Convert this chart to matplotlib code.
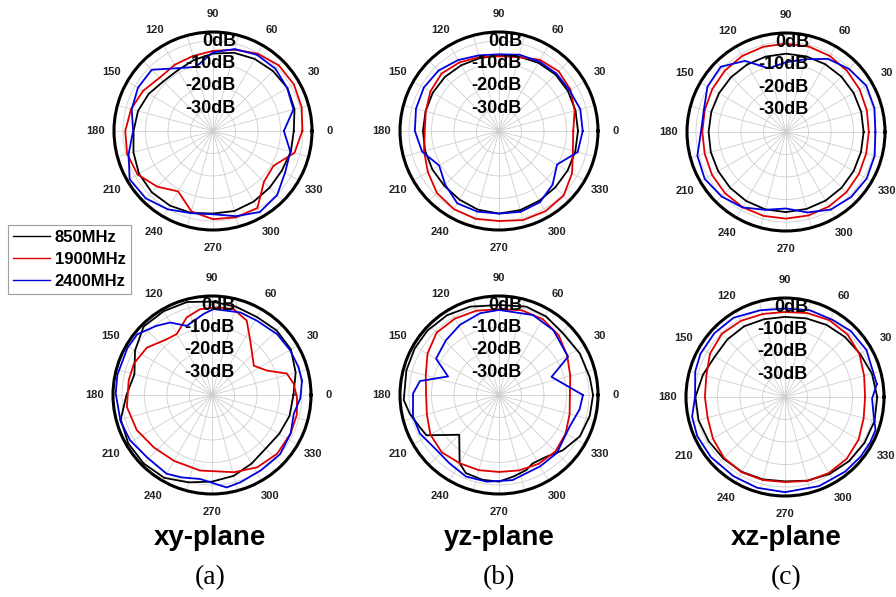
import numpy as np
import matplotlib.pyplot as plt
from matplotlib.lines import Line2D

plt.rcParams['font.family'] = 'Liberation Sans'

ang15 = list(range(0, 360, 15))
labels = ['850MHz', '1900MHz', '2400MHz']
colours = ['black', '#e00000', '#0000e0']

# ---- (a) xy-plane, top row (15 deg steps, dB)
xy1_850 = [-4.1, -2.5, -1.8, -2.3, -3.0, -4.0, -5.6, -7.3, -8.8, -8.8, -7.0, -5.5,
           -4.7, -3.4, -2.0, -1.5, -1.7, -2.3, -3.3, -3.2, -3.8, -4.4, -4.7, -4.2]
xy1_1900 = [-0.3, 0.8, 1.5, 1.3, -0.3, -2.6, -4.4, -5.5, -6.0, -6.5, -4.2, -2.3,
            -1.0, -0.5, -1.3, -5.0, -9.0, -3.0, -0.8, -0.3, -0.5, -8.0, -9.0, -2.5]
xy1_2400 = [-8.5, -3.0, -1.9, -0.8, -0.9, -2.3, -5.0, -10.5, -7.8, -1.5, -1.5, -2.6,
            -4.5, -1.2, 2.8, 2.3, 0.2, -2.2, -3.0, -0.8, 1.6, 0.3, -3.0, -4.4]

# ---- (a) xy-plane, bottom row
xy2_850 = [-3.8, -1.5, 0.5, 0.6, 0.0, 0.7, 1.5, 2.8, 3.0, 3.0, -0.5, -4.3,
           -2.0, 2.0, 3.0, 3.0, 2.5, 0.2, -1.5, -2.8, -4.8, -6.3, -5.5, -4.3]
xy2_1900_ang = [0, 8, 16, 24, 35, 55, 65, 76, 87, 98, 108, 120, 129, 144, 158, 170,
                188, 205, 222, 240, 261, 286, 302, 318, 334, 347, 358]
xy2_1900 = [-2.5, -3.4, -5.4, -13.3, -17.3, -10.4, -3.5, -0.6, -1.0, -1.5, -3.7, -8.7,
            -8.1, -4.2, -2.6, -2.4, -1.8, -3.1, -5.2, -6.2, -6.0, -4.3, -2.1, -1.0,
            -1.1, -1.3, -2.2]
xy2_2400_ang = [9, 18, 30, 43, 59, 71, 89, 96, 110, 120, 129, 141, 151, 168, 179, 196,
                209, 224, 240, 250, 262, 279, 288, 303, 319, 334, 347, 358]
xy2_2400 = [0.5, 0.4, 0.0, -0.4, -1.4, -1.2, -1.8, -3.8, -7.3, -2.8, -0.5, 2.8,
            3.0, 3.0, 2.8, 2.3, 1.6, 0.0, 0.4, -1.0, -2.3, 1.6, 0.8, -0.1, 0.1,
            -1.1, -2.7, -0.7]

# ---- (b) yz-plane, top row
yz1_850 = [-4.9, -4.8, -4.6, -4.5, -5.0, -5.8, -6.4, -6.5, -6.3, -6.0, -6.0, -6.2,
           -6.2, -6.0, -5.8, -5.6, -4.8, -3.8, -3.3, -3.6, -4.2, -4.6, -4.8, -4.9]
yz1_1900 = [-7.0, -5.2, -3.3, -2.5, -3.5, -6.0, -6.8, -6.0, -4.8, -3.9, -4.8, -6.3,
            -7.0, -5.5, -3.5, -1.0, 0.1, 0.4, 0.0, 1.0, 1.2, 0.6, -2.5, -6.0]
yz1_2400 = [-2.8, -2.6, -3.8, -3.9, -4.3, -4.9, -5.9, -5.2, -3.6, -2.0, -1.4, -1.8,
            -2.6, -4.6, -9.3, -6.2, -2.9, -2.9, -3.3, -2.8, -3.5, -6.3, -10.2, -3.8]

# ---- (b) yz-plane, bottom row
yz2_850_ang = [0, 11, 27, 44, 59, 73, 90, 108, 123, 138, 151, 165, 183, 192, 202, 209,
               225, 240, 247, 259, 270, 280, 290, 296, 307, 319, 333, 347]
yz2_850 = [1.8, 1.1, 0.4, -0.5, 0.7, 1.1, 0.0, 1.3, 2.3, 2.8, 2.8, 2.6, 2.4, 0.5,
           -2.0, -3.1, -15.0, -5.0, -2.3, -1.6, -1.5, -3.2, -4.5, -6.1, -5.5, -2.5,
           0.4, 1.4]
yz2_1900 = [-8.5, -7.2, -5.0, -2.5, -1.1, -1.0, -1.9, -1.2, -0.8, -0.8, -3.3, -6.3,
            -7.6, -6.8, -4.8, -4.0, -5.0, -5.4, -5.8, -5.3, -4.7, -4.5, -5.8, -7.5]
yz2_2400_ang = [0, 19, 29, 50, 67, 90, 103, 119, 134, 150, 160, 170, 179, 194, 206,
                221, 234, 248, 262, 279, 300, 315, 336, 350]
yz2_2400 = [-2.7, -15.3, -4.9, -2.4, -1.4, -2.2, -2.7, -4.3, -6.1, -7.7, -15.9, -4.3,
            -1.8, -0.6, -0.9, -3.0, -2.5, -0.9, -1.1, -1.7, -3.4, -3.6, -5.6, -3.6]

# ---- (c) xz-plane, top row
xz1_850 = [-5.5, -5.4, -5.3, -5.2, -5.2, -5.2, -5.2, -5.3, -5.4, -5.5, -5.6, -5.6,
           -5.6, -5.4, -5.2, -4.9, -4.6, -4.4, -4.4, -4.6, -4.8, -5.0, -5.3, -5.5]
xz1_1900 = [-3.2, -2.8, -2.2, -1.6, -1.0, -0.7, -0.7, -0.8, -1.0, -1.5, -2.1, -2.6,
            -2.8, -2.6, -2.0, -1.6, -1.4, -1.4, -1.5, -1.6, -1.8, -2.1, -2.6, -3.1]
xz1_2400 = [-0.3, 0.7, 1.2, -0.4, -2.5, -6.5, -9.0, -10.7, -3.5, 1.0, 0.3, -2.2,
            -2.2, 0.8, 1.7, 0.5, -1.3, -4.2, -6.0, -3.0, -0.2, 0.9, 1.4, 0.8]

# ---- (c) xz-plane, bottom row
xz2_850 = [1.0, 0.0, -1.5, -2.3, -3.0, -3.8, -4.4, -4.2, -3.7, -3.8, -4.0, -2.2,
           -0.2, -0.2, -0.8, -1.3, -1.6, -2.1, -2.5, -1.5, -0.5, 0.3, 0.8, 1.2]
xz2_1900 = [-4.4, -3.6, -1.8, -0.7, -0.6, -1.4, -2.2, -1.8, -0.9, -0.3, -1.5, -3.8,
            -4.4, -4.4, -3.0, -1.7, -1.4, -1.8, -2.2, -1.4, -1.0, -1.2, -2.2, -3.8]
xz2_2400_ang = [8, 30, 45, 58, 74, 90, 106, 123, 138, 153, 164, 180, 192, 204, 219,
                237, 253, 270, 291, 309, 322, 332, 340, 351, 359]
xz2_2400 = [1.2, 1.8, 1.4, 0.3, 0.1, -0.7, 0.1, 2.0, 2.3, 2.2, 1.5, 0.0, 2.2, 2.7,
            2.4, 2.0, 2.2, 2.3, 2.4, 2.6, 2.8, 2.9, 2.8, -0.3, -1.3]

plane_names = ['xy-plane', 'yz-plane', 'xz-plane']
sub_names = ['(a)', '(b)', '(c)']

W, H = 896, 597
R = 99  # outer ring radius in pixels

fig = plt.figure(figsize=(W / 100, H / 100), dpi=100)


def draw_panel(cx, cy, series):
    ax = fig.add_axes([(cx - R) / W, 1 - (cy + R) / H, 2 * R / W, 2 * R / H],
                      projection='polar')
    for (ang, db), col in zip(series, colours):
        t = np.deg2rad(list(ang) + [ang[0]])
        r = list(db) + [db[0]]
        ax.plot(t, r, color=col, lw=1.3)
    ax.set_ylim(-40, 4)
    ax.set_yticks([-30, -20, -10, 0])
    ax.set_yticklabels([])
    ax.set_xticks(np.deg2rad(ang15))
    ax.set_xticklabels([str(a) if a % 30 == 0 else '' for a in ang15],
                       fontsize=8, fontweight='bold', color='#222222')
    ax.tick_params(axis='x', pad=3, direction='out', length=3, width=1)
    ax.grid(True, color='#cfcfcf', lw=0.6)
    ax.spines['polar'].set_linewidth(2.2)
    for v in [0, -10, -20, -30]:
        ax.annotate(f'{v}dB', xy=(np.pi / 2, v), xytext=(16.5, 0),
                    textcoords='offset points', ha='right', va='center',
                    fontsize=13, fontweight='bold', zorder=5,
                    annotation_clip=False)
    return ax


draw_panel(213, 131, [(ang15, xy1_850), (ang15, xy1_1900), (ang15, xy1_2400)])
draw_panel(499, 131, [(ang15, yz1_850), (ang15, yz1_1900), (ang15, yz1_2400)])
draw_panel(786, 132, [(ang15, xz1_850), (ang15, xz1_1900), (ang15, xz1_2400)])
draw_panel(212, 395, [(ang15, xy2_850), (xy2_1900_ang, xy2_1900),
                      (xy2_2400_ang, xy2_2400)])
draw_panel(499, 395, [(yz2_850_ang, yz2_850), (ang15, yz2_1900),
                      (yz2_2400_ang, yz2_2400)])
draw_panel(785, 397, [(ang15, xz2_850), (ang15, xz2_1900),
                      (xz2_2400_ang, xz2_2400)])

handles = [Line2D([], [], color=c, lw=1.0) for c in colours]
leg = fig.legend(handles, labels, loc='upper left',
                 bbox_to_anchor=(8 / W, 1 - 225 / H), frameon=True,
                 fancybox=False, edgecolor='#888888',
                 prop={'weight': 'bold', 'size': 12}, handlelength=2.2,
                 handletextpad=0.3, labelspacing=0.42, borderpad=0.3,
                 borderaxespad=0)
leg.get_frame().set_linewidth(0.8)

for x, name, sub in zip([210, 499, 786], plane_names, sub_names):
    fig.text(x / W, 1 - 538 / H, name, ha='center', va='center',
             fontsize=20, fontweight='bold')
    fig.text(x / W, 1 - 578 / H, sub, ha='center', va='center',
             fontsize=20, family='Liberation Serif')

fig.savefig('out.png', dpi=100)
